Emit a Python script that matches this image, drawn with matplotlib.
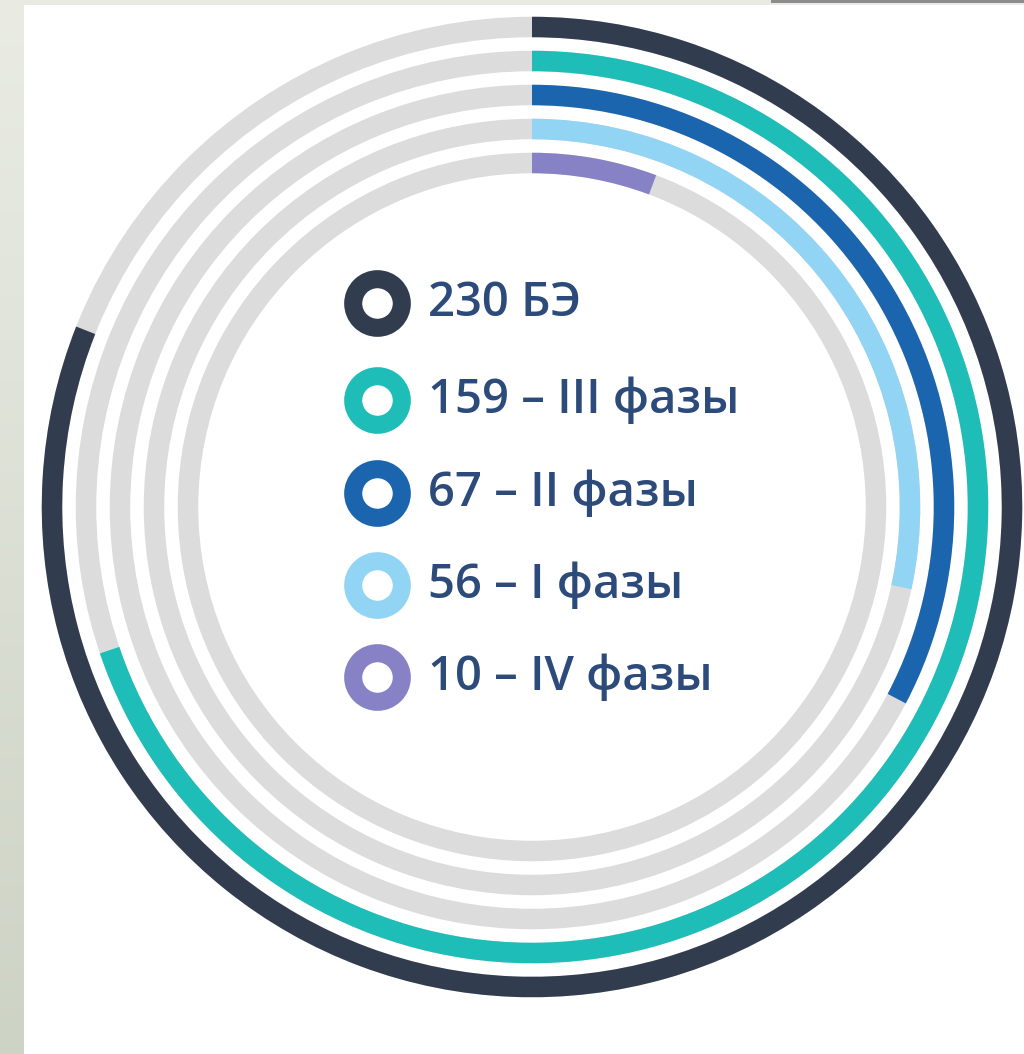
import numpy as np
import matplotlib
matplotlib.use("Agg")
from matplotlib import pyplot as plt
from matplotlib.patches import Rectangle

# data
counts = [230, 159, 67, 56, 10]
labels = ["230 БЭ", "159 – III фазы", "67 – II фазы", "56 – I фазы", "10 – IV фазы"]
# share of the full circle each ring is filled (as drawn in the infographic)
shares = [0.81, 0.698, 0.327, 0.284, 0.057]
colors = ["#323c4f", "#1fbdb8", "#1b64ae", "#92d4f3", "#8781c5"]
track_color = "#dcdcdc"
text_color = "#2c4a7a"

W, H = 1024, 1054
DPI = 100
fig = plt.figure(figsize=(W / DPI, H / DPI), dpi=DPI, facecolor="white")

# background pieces of the slide (pixel coords)
bg = fig.add_axes([0, 0, 1, 1], zorder=0)
bg.set_xlim(0, W)
bg.set_ylim(H, 0)
bg.axis("off")
grad = np.linspace(0, 1, 256).reshape(-1, 1)
strip_cmap = matplotlib.colors.LinearSegmentedColormap.from_list("strip", ["#eaece4", "#cdd3c5"])
bg.imshow(grad, cmap=strip_cmap, extent=(0, 24, H, 0), aspect="auto")
bg.add_patch(Rectangle((0, 0), W, 5, color="#e9ebe3", lw=0))
bg.add_patch(Rectangle((771, 0), W - 771, 3, color="#8c8c8c", lw=0))

# radial bars
cx, cy = 532, 507
rmax = 494
ax = fig.add_axes([(cx - rmax) / W, (H - cy - rmax) / H, 2 * rmax / W, 2 * rmax / H],
                  projection="polar", zorder=1)
ax.set_theta_zero_location("N")
ax.set_theta_direction(-1)
ax.set_ylim(0, rmax)
ax.set_facecolor("none")
ax.axis("off")

ring_r = [480, 446, 412, 378, 344]
ring_w = 20.5
for r, share, c in zip(ring_r, shares, colors):
    ax.barh(r, width=2 * np.pi, left=0, height=ring_w, color=track_color, lw=0)
    ax.barh(r, width=share * 2 * np.pi, left=0, height=ring_w, color=c, lw=0)

# legend in the middle
leg = fig.add_axes([0, 0, 1, 1], zorder=2)
leg.set_xlim(0, W)
leg.set_ylim(H, 0)
leg.axis("off")
leg_y = [303, 400, 493, 585, 677]
for y, lab, c in zip(leg_y, labels, colors):
    leg.plot(377, y, marker="o", ms=35, mew=13, mec=c, mfc="white")
    leg.text(428, y, lab, fontsize=34, color=text_color, va="center", ha="left",
             family="Open Sans", weight="semibold")

fig.savefig("out.png", dpi=DPI, facecolor="white")
